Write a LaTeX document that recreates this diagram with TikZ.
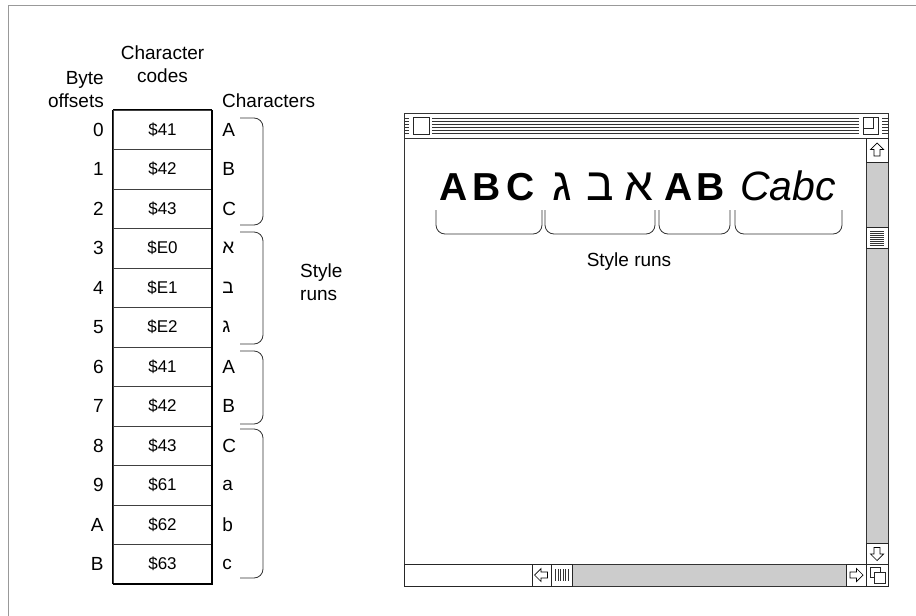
\documentclass[tikz,border=0pt]{standalone}
\usepackage{fontspec}
\setmainfont{Liberation Sans}
\newfontfamily\hebfont[Script=Hebrew]{Liberation Sans}
\begin{document}
\begin{tikzpicture}[x=1pt, y=-1pt, every node/.style={font=\fontsize{19}{23}\selectfont, inner sep=0pt}]
  \tikzstyle{cell}=[draw=black!75,minimum width=99pt,minimum height=39.5pt,font=\fontsize{17}{20}\selectfont]
  \tikzstyle{brace}=[draw=black!80,line width=0.8pt,rounded corners=9pt]
  \tikzstyle{big}=[font=\fontsize{39}{44}\selectfont,anchor=base]
  \tikzstyle{bighebrew}=[font=\fontsize{46}{50}\selectfont\hebfont,anchor=base]
  \tikzstyle{track}=[fill=black!20,draw=black!80,line width=0.9pt]
  \tikzstyle{knob}=[fill=white,draw=black!85,line width=0.9pt]
  \tikzset{arrowglyph/.pic={\draw[fill=white,line width=0.7pt] (0,-7) -- (6.5,-0.5) -- (3,-0.5) -- (3,6) -- (-3,6) -- (-3,-0.5) -- (-6.5,-0.5) -- cycle;}}
  \useasboundingbox (0,0) rectangle (916,616);
  % frame
  \draw[black!40,line width=1pt] (8,616) -- (8,5) -- (916,5);
  % byte table
  \node[align=right,anchor=base east] (hbyte) at (104,107) {Byte\\offsets};
  \node[align=center,anchor=base] (hcode) at (162.5,82) {Character\\codes};
  \node[anchor=base west] (hchar) at (222,107) {Characters};
  \foreach \off/\code/\ch [count=\i from 0] in {0/41/A,1/42/B,2/43/C,3/E0/{\hebfont א},4/E1/{\hebfont ב},5/E2/{\hebfont ג},6/41/A,7/42/B,8/43/C,9/61/a,A/62/b,B/63/c} {
    \node[cell] (c\i) at (162.5,{129.75+39.5*\i}) {\$\code};
    \node[anchor=east] (o\i) at ([xshift=-9pt]c\i.west) {\off};
    \node[anchor=west] (ch\i) at ([xshift=10pt]c\i.east) {\ch};
  }
  \draw[line width=1.2pt] (c0.north west) -- (c0.north east);
  \draw[line width=1.2pt] (c0.north west) -- (c11.south west);
  \draw[line width=2.2pt] (c0.north east) -- (c11.south east) -- (c11.south west);
  \foreach \t/\b in {118/225,232/344,351/424,429/578}
    \draw[brace] (240,\t) -- (263,\t) -- (263,\b) -- (240,\b);
  \node[align=left,anchor=west] (runs) at (300,282) {Style\\runs};
  % window
  \draw[black!80,line width=1pt] (404,113) rectangle (888,586);
  \foreach \y in {118,121,124,127,130,133}
    \draw[black!80,line width=0.8pt] (404,\y) -- (888,\y);
  \fill[white] (409,115.5) rectangle (432,135.5);
  \fill[white] (859,115.5) rectangle (882,135.5);
  \draw[knob,line width=1pt] (413,117) rectangle (429,134);
  \draw[knob,line width=1pt] (863,117) rectangle (878,134);
  \draw[black!85,line width=1pt] (863,128) -- (873,128) -- (873,117);
  \draw[black!80,line width=1pt] (404,138) -- (888,138);
  % vertical scroll bar
  \draw[track] (866,138) rectangle (888,564);
  \draw[knob] (866,138) rectangle (888,162);
  \pic at (877,150) {arrowglyph};
  \draw[knob] (866,227) rectangle (888,248);
  \foreach \y in {231,233,...,245}
    \draw[black!80,line width=0.6pt] (870,\y) -- (884,\y);
  \draw[knob] (866,543) rectangle (888,564);
  \pic[rotate=180] at (877,553.5) {arrowglyph};
  % horizontal scroll bar
  \draw[track] (404,564) rectangle (888,586);
  \draw[knob] (404,564) rectangle (532,586);
  \draw[knob] (532,564) rectangle (551,586);
  \pic[rotate=90] at (541.5,575) {arrowglyph};
  \draw[knob] (551,564) rectangle (572,586);
  \foreach \x in {555.5,558,...,568}
    \draw[black!80,line width=0.6pt] (\x,569) -- (\x,581);
  \draw[knob] (846,564) rectangle (866,586);
  \pic[rotate=-90] at (856,575) {arrowglyph};
  \draw[knob] (866,564) rectangle (888,586);
  \draw[black!85,line width=0.9pt] (870,567) rectangle (880,577);
  \draw[knob,line width=0.9pt] (874,572) rectangle (885,583);
  % text in window
  \node[big] (runA) at (487,200) {\bfseries A\hspace{5pt}B\hspace{5pt}C};
  \node[bighebrew] (gimel) at (562,200) {ג};
  \node[bighebrew] (bet) at (600,200) {ב};
  \node[bighebrew] (alef) at (639,200) {א};
  \node[big] (runB) at (695,200) {\bfseries A\hspace{4pt}B};
  \node[big,font=\fontsize{41}{46}\selectfont] (runC) at (788,200) {\itshape Cabc};
  \foreach \l/\r in {436/542,545/655,659/730,735/842}
    \draw[brace] (\l,210) -- (\l,234) -- (\r,234) -- (\r,210);
  \node (wruns) at (629,262) {Style runs};
\end{tikzpicture}
\end{document}
